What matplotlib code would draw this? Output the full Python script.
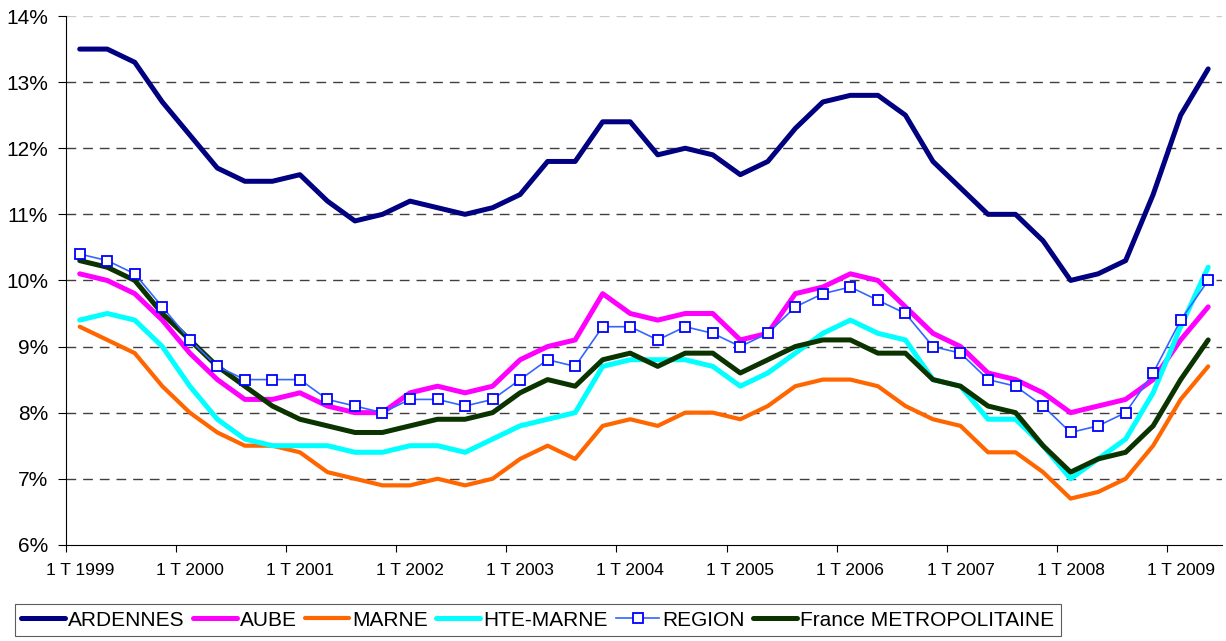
import matplotlib.pyplot as plt

plt.rcParams['font.family'] = ['Liberation Sans', 'DejaVu Sans']

# trimestres 1 T 1999 -> 2 T 2009
years = [str(y) for y in range(1999, 2010)]
tick_labels = ['1 T ' + y for y in years]

ardennes = [13.5, 13.5, 13.3, 12.7, 12.2, 11.7, 11.5, 11.5, 11.6, 11.2,
            10.9, 11.0, 11.2, 11.1, 11.0, 11.1, 11.3, 11.8, 11.8, 12.4,
            12.4, 11.9, 12.0, 11.9, 11.6, 11.8, 12.3, 12.7, 12.8, 12.8,
            12.5, 11.8, 11.4, 11.0, 11.0, 10.6, 10.0, 10.1, 10.3, 11.3,
            12.5, 13.2]
aube = [10.1, 10.0, 9.8, 9.4, 8.9, 8.5, 8.2, 8.2, 8.3, 8.1,
        8.0, 8.0, 8.3, 8.4, 8.3, 8.4, 8.8, 9.0, 9.1, 9.8,
        9.5, 9.4, 9.5, 9.5, 9.1, 9.2, 9.8, 9.9, 10.1, 10.0,
        9.6, 9.2, 9.0, 8.6, 8.5, 8.3, 8.0, 8.1, 8.2, 8.5,
        9.1, 9.6]
marne = [9.3, 9.1, 8.9, 8.4, 8.0, 7.7, 7.5, 7.5, 7.4, 7.1,
         7.0, 6.9, 6.9, 7.0, 6.9, 7.0, 7.3, 7.5, 7.3, 7.8,
         7.9, 7.8, 8.0, 8.0, 7.9, 8.1, 8.4, 8.5, 8.5, 8.4,
         8.1, 7.9, 7.8, 7.4, 7.4, 7.1, 6.7, 6.8, 7.0, 7.5,
         8.2, 8.7]
hte_marne = [9.4, 9.5, 9.4, 9.0, 8.4, 7.9, 7.6, 7.5, 7.5, 7.5,
             7.4, 7.4, 7.5, 7.5, 7.4, 7.6, 7.8, 7.9, 8.0, 8.7,
             8.8, 8.8, 8.8, 8.7, 8.4, 8.6, 8.9, 9.2, 9.4, 9.2,
             9.1, 8.5, 8.4, 7.9, 7.9, 7.5, 7.0, 7.3, 7.6, 8.3,
             9.3, 10.2]
region = [10.4, 10.3, 10.1, 9.6, 9.1, 8.7, 8.5, 8.5, 8.5, 8.2,
          8.1, 8.0, 8.2, 8.2, 8.1, 8.2, 8.5, 8.8, 8.7, 9.3,
          9.3, 9.1, 9.3, 9.2, 9.0, 9.2, 9.6, 9.8, 9.9, 9.7,
          9.5, 9.0, 8.9, 8.5, 8.4, 8.1, 7.7, 7.8, 8.0, 8.6,
          9.4, 10.0]
france = [10.3, 10.2, 10.0, 9.5, 9.1, 8.7, 8.4, 8.1, 7.9, 7.8,
          7.7, 7.7, 7.8, 7.9, 7.9, 8.0, 8.3, 8.5, 8.4, 8.8,
          8.9, 8.7, 8.9, 8.9, 8.6, 8.8, 9.0, 9.1, 9.1, 8.9,
          8.9, 8.5, 8.4, 8.1, 8.0, 7.5, 7.1, 7.3, 7.4, 7.8,
          8.5, 9.1]

x = list(range(len(ardennes)))

fig = plt.figure(figsize=(12.26, 6.41), dpi=100)
ax = fig.add_axes([0.0538, 0.150, 0.9429, 0.825])

ax.plot(x, ardennes, color='#000080', lw=3.6, label='ARDENNES', solid_capstyle='round')
ax.plot(x, aube, color='#FF00FF', lw=3.6, label='AUBE', solid_capstyle='round')
ax.plot(x, marne, color='#FF6600', lw=3.0, label='MARNE', solid_capstyle='round')
ax.plot(x, hte_marne, color='#00FFFF', lw=3.6, label='HTE-MARNE', solid_capstyle='round')
ax.plot(x, france, color='#0A3300', lw=3.6, label='France METROPOLITAINE',
        solid_capstyle='round', zorder=3)
ax.plot(x, region, color='#3366FF', lw=1.2, marker='s', ms=7, mfc='white',
        mec='#0000FF', mew=1.3, label='REGION', zorder=4)

ax.set_ylim(6, 14)
ax.set_xlim(-0.5, len(x) - 0.5)
ax.set_yticks(range(6, 15))
ax.set_yticklabels([f'{v}%' for v in range(6, 15)], fontsize=15)

ax.set_xticks([i - 0.5 for i in range(0, 44, 4)][:11])
ax.set_xticks(range(0, 44, 4), minor=True)
ax.set_xticklabels([])
ax.set_xticklabels(tick_labels, minor=True, fontsize=12.5)
ax.tick_params(axis='x', which='major', length=5, direction='out')
ax.tick_params(axis='x', which='minor', length=0, pad=13)
ax.tick_params(axis='y', length=6, direction='out', pad=7)

for v in range(7, 14):
    ax.axhline(v, color='#404040', lw=1.0, ls=(0, (7, 5)), zorder=0)
ax.axhline(14, color='#cccccc', lw=1.0, ls=(0, (7, 5)), zorder=0)

for s in ['top', 'right']:
    ax.spines[s].set_visible(False)

handles, labels = ax.get_legend_handles_labels()
order = [0, 1, 2, 3, 5, 4]
leg = fig.legend([handles[i] for i in order], [labels[i] for i in order],
                 loc='upper left', bbox_to_anchor=(0.012, 0.057), ncol=6,
                 fontsize=15, frameon=True, fancybox=False, edgecolor='#333333',
                 handlelength=2.1, handletextpad=0.15, columnspacing=0.4,
                 borderpad=0.3, borderaxespad=0)
leg.get_frame().set_linewidth(0.8)

fig.savefig('out.png', dpi=100)
